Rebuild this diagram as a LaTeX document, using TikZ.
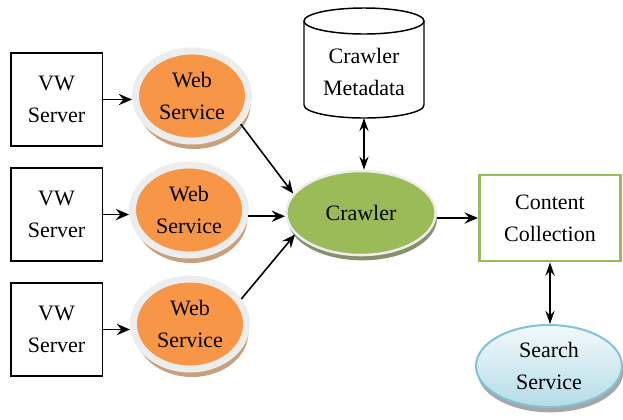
\documentclass[tikz,border=0pt]{standalone}
\usepackage{fontspec}
\setmainfont{Liberation Serif}
\usetikzlibrary{shapes.geometric,shadows,arrows.meta,calc}

\definecolor{webOrange}{HTML}{F79646}
\definecolor{ringGray}{HTML}{EDEDED}
\definecolor{webShadow}{HTML}{C9A07C}
\definecolor{crawlGreen}{HTML}{9BBB59}
\definecolor{crawlShadow}{HTML}{86906C}
\definecolor{searchTop}{HTML}{F2F9FB}
\definecolor{searchBottom}{HTML}{B4DCE7}
\definecolor{searchLine}{HTML}{7FC4D6}

\tikzset{
  every node/.style={font=\rmfamily\fontsize{16.5}{24}\selectfont, align=center, inner sep=0.75pt},
  server/.style={draw, line width=1.1pt, minimum width=68.6pt, minimum height=70pt},
  websvc/.style={ellipse, fill=webOrange, draw=ringGray, line width=5.2pt,
    minimum width=84.75pt, minimum height=67.5pt,
    drop shadow={shadow xshift=1.5pt, shadow yshift=-6pt, fill=webShadow, opacity=1}},
  crawlnode/.style={ellipse, fill=crawlGreen, draw=ringGray, line width=1.9pt,
    minimum width=112pt, minimum height=63pt,
    drop shadow={shadow xshift=1pt, shadow yshift=-4pt, fill=crawlShadow, opacity=1}},
  storeline/.style={line width=1.1pt},
  collect/.style={draw=crawlGreen, fill=white, line width=2.2pt, minimum width=106pt, minimum height=64.5pt},
  searchnode/.style={ellipse, top color=searchTop, bottom color=searchBottom, draw=searchLine,
    line width=1.5pt, minimum width=109.5pt, minimum height=61.5pt,
    drop shadow={shadow xshift=1pt, shadow yshift=-4pt, fill=black!35, opacity=1}},
  link/.style={line width=1.2pt, -{Stealth[length=10pt,width=8.5pt,inset=3.5pt]}},
  twoway/.style={line width=1.2pt, {Stealth[length=10pt,width=7pt,inset=3.5pt]}-{Stealth[length=10pt,width=7pt,inset=3.5pt]}}
}

\begin{document}
\begin{tikzpicture}[x=0.75pt,y=0.75pt,yscale=-1,xscale=1]
\useasboundingbox (0,0) rectangle (623,419);

%Shape: Rectangle -- servers
\node [server] (vw1) at (56.5,99.5) {VW\\Server};
\node [server] (vw2) at (56.5,214.5) {VW\\Server};
\node [server] (vw3) at (56.5,329.5) {VW\\Server};

%Shape: Ellipse -- web services
\node [websvc] (web1) at (192,96) {Web\\Service};
\node [websvc] (web2) at (189,210) {Web\\Service};
\node [websvc] (web3) at (190,324) {Web\\Service};

%Shape: Ellipse -- crawler
\node [crawlnode] (crawler) at (361,213) {Crawler};

%Shape: Can -- metadata store
\node (meta) at (364,72) {Crawler\\Metadata};
\draw [storeline] ($(meta)+(-60,-51)$) -- ($(meta)+(-60,33)$)
  arc [start angle=180, end angle=0, x radius=45pt, y radius=9.75pt] -- ($(meta)+(60,-51)$);
\draw [storeline] ($(meta)+(0,-51)$) ellipse [x radius=45pt, y radius=9.75pt];

%Shape: Rectangle -- content collection
\node [collect] (content) at (550,218) {Content\\Collection};

%Shape: Ellipse -- search service
\node [searchnode] (search) at (549,366) {Search\\Service};

% Connectors
\draw [link] (vw1.east) -- (vw1.east -| web1.west);
\draw [link] (vw2.east) -- (vw2.east -| web2.west);
\draw [link] (vw3.east) -- (vw3.east -| web3.west);
\draw [link] (web1.-30) -- (crawler.164);
\draw [link] (web2.-6) -- (web2.-6 -| crawler.west);
\draw [link] (web3.26) -- (crawler.198);
\draw [link] (content.west -| crawler.east) -- (content.west);
\draw [twoway] ($(meta)+(0,46)$) -- (meta |- crawler.north);
\draw [twoway] (content.south) -- (content.south |- search.north);

\end{tikzpicture}
\end{document}
